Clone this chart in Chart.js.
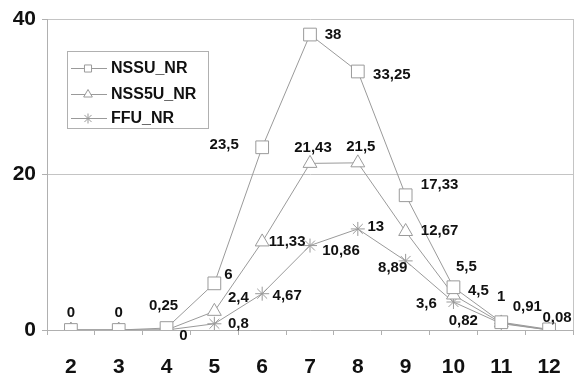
<!DOCTYPE html>
<html>
<head>
<meta charset="utf-8">
<script src="https://cdn.jsdelivr.net/npm/chart.js@4"></script>
<style>
html,body{margin:0;padding:0;background:#fff;}
#wrap{width:583px;height:375px;position:relative;}
</style>
</head>
<body>
<div id="wrap"><canvas id="c" width="583" height="375"></canvas></div>
<script>
// ---- data ----
const categories = ["2","3","4","5","6","7","8","9","10","11","12"];
const seriesNames = ["NSSU_NR","NSS5U_NR","FFU_NR"];
const nssu  = [0, 0, 0.25, 6, 23.5, 38, 33.25, 17.33, 5.5, 1, 0.08];
const nss5u = [0, 0, 0, 2.4, 11.33, 21.43, 21.5, 12.67, 4.5, 0.91, 0];
const ffu   = [0, 0, 0, 0.8, 4.67, 10.86, 13, 8.89, 3.6, 0.82, 0];
const yTicks = [0, 20, 40];

// ---- label placement (pixel offsets from the point; null = no label) ----
const labelPlacement = [
  [[0,-17],[0,-17],[-3,-22],[14,-8],[-38,-2],[23,0],[34,3],[34,-10],[13,-20],[0,-25],[8,-12]],
  [null,null,null,[24,-13],[25,0],[3,-16],[3,-16],[34,-1],[25,-4],[26,-16],null],
  [null,null,[17,6],[24,0],[25,2],[31,5],[18,-2],[-13,7],[-27,2],[-38,-3],null]
];

const GREY = '#9a9a9a';
const FONT = '"Liberation Sans", Arial, sans-serif';
const styles = ['rect','triangle','star'];
const radii = [9, 8, 7];

const dataLabels = {
  id: 'dataLabels',
  afterDatasetsDraw(chart) {
    const ctx = chart.ctx;
    ctx.save();
    ctx.font = 'bold 15px ' + FONT;
    ctx.fillStyle = '#111';
    ctx.textAlign = 'center';
    ctx.textBaseline = 'middle';
    chart.data.datasets.forEach((ds, di) => {
      const meta = chart.getDatasetMeta(di);
      meta.data.forEach((pt, i) => {
        const off = labelPlacement[di][i];
        if (!off) return;
        const txt = String(ds.data[i]).replace('.', ',');
        ctx.fillText(txt, pt.x + off[0], pt.y + off[1]);
      });
    });
    ctx.restore();
  }
};

const frame = {
  id: 'frame',
  beforeDatasetsDraw(chart) {
    const {ctx, chartArea: a} = chart;
    ctx.save();
    ctx.strokeStyle = '#c4c4c4';
    ctx.lineWidth = 1;
    ctx.beginPath();
    ctx.moveTo(Math.round(a.right) + 0.5, a.top);
    ctx.lineTo(Math.round(a.right) + 0.5, a.bottom);
    ctx.stroke();
    ctx.restore();
  }
};

const insideLegend = {
  id: 'insideLegend',
  afterDraw(chart) {
    const ctx = chart.ctx;
    const x0 = 67, y0 = 51, w = 141, h = 77;
    ctx.save();
    ctx.fillStyle = '#fff';
    ctx.fillRect(x0, y0, w, h);
    ctx.strokeStyle = '#b0b0b0';
    ctx.lineWidth = 1;
    ctx.strokeRect(x0 + 0.5, y0 + 0.5, w, h);
    const rows = [68, 94, 118];
    ctx.font = 'bold 16px ' + FONT;
    ctx.textBaseline = 'middle';
    ctx.textAlign = 'left';
    seriesNames.forEach((name, i) => {
      const y = rows[i];
      ctx.strokeStyle = GREY;
      ctx.beginPath();
      ctx.moveTo(71, y + 0.5);
      ctx.lineTo(107, y + 0.5);
      ctx.stroke();
      ctx.fillStyle = '#fff';
      Chart.helpers.drawPoint(ctx, {pointStyle: styles[i], radius: 5, rotation: 0, borderWidth: 1}, 88, y + 0.5);
      ctx.fillStyle = '#111';
      ctx.fillText(name, 111, y + 1);
    });
    ctx.restore();
  }
};

const seriesData = [nssu, nss5u, ffu];
const datasets = seriesData.map((d, i) => ({
  label: seriesNames[i],
  data: d,
  borderColor: GREY,
  borderWidth: 1,
  backgroundColor: '#fff',
  pointStyle: styles[i],
  pointRadius: radii[i],
  pointHoverRadius: radii[i],
  pointBorderColor: GREY,
  pointBackgroundColor: i < 2 ? '#fff' : 'rgba(255,255,255,0)',
  pointBorderWidth: 1,
  tension: 0,
  fill: false
}));

new Chart(document.getElementById('c'), {
  type: 'line',
  data: { labels: categories, datasets },
  options: {
    responsive: false,
    animation: false,
    events: [],
    layout: { padding: { top: 19, right: 5, left: 0, bottom: 0 } },
    plugins: { legend: { display: false }, tooltip: { enabled: false } },
    scales: {
      x: {
        offset: true,
        grid: { offset: true, drawOnChartArea: false, tickLength: 5, color: '#b0b0b0' },
        border: { color: '#b0b0b0' },
        ticks: { color: '#111', font: { family: FONT, size: 21, weight: 'bold' }, padding: 20, maxRotation: 0 },
        afterFit(s) { s.height = 45; }
      },
      y: {
        min: 0, max: 40,
        afterBuildTicks(s) { s.ticks = yTicks.map(v => ({ value: v })); },
        grid: { color: '#c4c4c4', tickLength: 5, tickColor: '#b0b0b0' },
        border: { color: '#b0b0b0' },
        ticks: { color: '#111', font: { family: FONT, size: 21, weight: 'bold' }, padding: 6 },
        afterFit(s) { s.width = 47; }
      }
    }
  },
  plugins: [frame, dataLabels, insideLegend]
});
</script>
</body>
</html>
